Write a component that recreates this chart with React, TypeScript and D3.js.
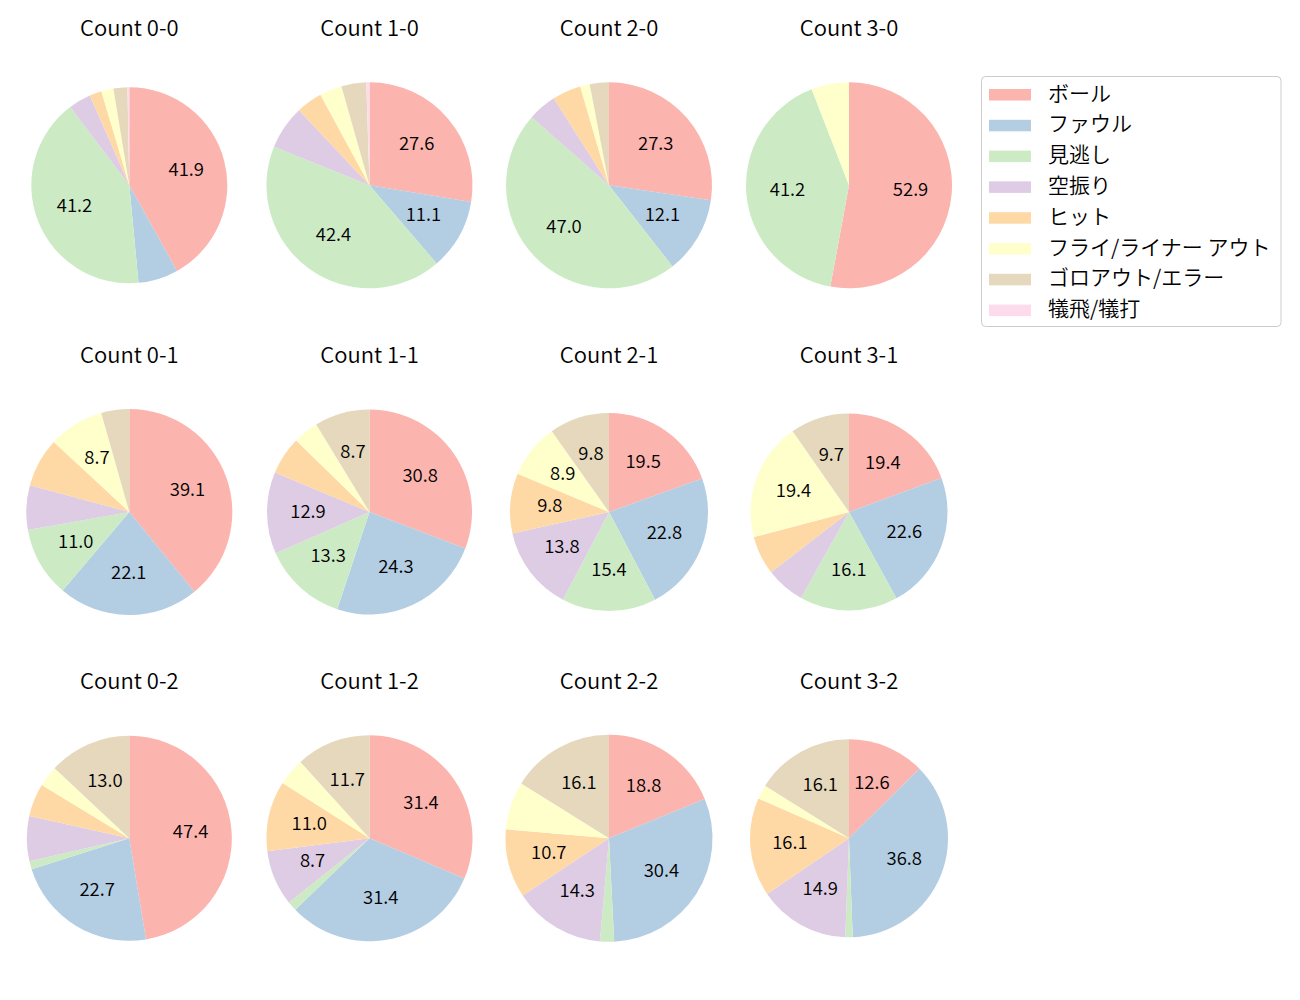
import React from "react";
import * as d3 from "d3";

const categories = ["ボール", "ファウル", "見逃し", "空振り", "ヒット", "フライ/ライナー アウト", "ゴロアウト/エラー", "犠飛/犠打"];
const colors = ["#fbb4ae", "#b3cde3", "#ccebc5", "#decbe4", "#fed9a6", "#ffffcc", "#e5d8bd", "#fddaec"];

const titles = [
  "Count 0-0", "Count 1-0", "Count 2-0", "Count 3-0",
  "Count 0-1", "Count 1-1", "Count 2-1", "Count 3-1",
  "Count 0-2", "Count 1-2", "Count 2-2", "Count 3-2",
];

const count00 = [41.9, 6.6, 41.2, 3.7, 2.0, 2.0, 2.3, 0.3];
const count10 = [27.6, 11.1, 42.4, 6.9, 4.1, 3.5, 3.9, 0.5];
const count20 = [27.3, 12.1, 47.0, 4.5, 4.5, 1.5, 3.0, 0];
const count30 = [52.9, 0, 41.2, 0, 0, 5.9, 0, 0];
const count01 = [39.1, 22.1, 11.0, 7.0, 7.7, 8.7, 4.4, 0];
const count11 = [30.8, 24.3, 13.3, 12.9, 6.0, 4.0, 8.7, 0];
const count21 = [19.5, 22.8, 15.4, 13.8, 9.8, 8.9, 9.8, 0];
const count31 = [19.4, 22.6, 16.1, 6.4, 6.4, 19.4, 9.7, 0];
const count02 = [47.4, 22.7, 1.3, 7.1, 5.2, 3.3, 13.0, 0];
const count12 = [31.4, 31.4, 1.5, 8.7, 11.0, 4.3, 11.7, 0];
const count22 = [18.8, 30.4, 2.2, 14.3, 10.7, 7.5, 16.1, 0];
const count32 = [12.6, 36.8, 1.2, 14.9, 16.1, 2.3, 16.1, 0];

const series = [count00, count10, count20, count30, count01, count11, count21, count31, count02, count12, count22, count32];

// layout
const colX = [129.3, 369.5, 609, 849];
const rowY = [185.3, 512, 838.3];
const titleBaseline = [36, 362.5, 689];
const radii = [98, 103, 103, 103, 103, 102.5, 99, 98.5, 102.5, 103, 103.5, 99];

const FONT = "'Noto Sans CJK JP', 'Noto Sans', sans-serif";
const WEIGHT = 350;
const LABEL_SIZE = 18.5;
const TITLE_SIZE = 22;
const LEGEND_SIZE = 21;

function Pie({ values, title, cx, cy, r, ty }: { values: number[]; title: string; cx: number; cy: number; r: number; ty: number }) {
  const pie = d3.pie<number>().sort(null).value((d) => d).startAngle(0).endAngle(2 * Math.PI);
  const arcs = pie(values);
  const arc = d3.arc<d3.PieArcDatum<number>>().innerRadius(0).outerRadius(r);
  const total = d3.sum(values);
  return (
    <g transform={`translate(${cx},${cy})`}>
      {arcs.map((a, i) =>
        a.value > 0 ? <path key={i} d={arc(a) || ""} fill={colors[i]} /> : null
      )}
      {arcs.map((a, i) => {
        const pct = (a.value / total) * 100;
        if (pct < 8) return null;
        const mid = (a.startAngle + a.endAngle) / 2;
        const x = Math.sin(mid) * r * 0.6;
        const y = -Math.cos(mid) * r * 0.6;
        return (
          <text key={"t" + i} x={x} y={y + LABEL_SIZE * 0.27} textAnchor="middle" fontSize={LABEL_SIZE} fontWeight={WEIGHT} fontFamily={FONT} fill="#000">
            {pct.toFixed(1)}
          </text>
        );
      })}
      <text x={0} y={ty - cy} textAnchor="middle" fontSize={TITLE_SIZE} fontWeight={WEIGHT} fontFamily={FONT} fill="#000">
        {title}
      </text>
    </g>
  );
}

function Legend() {
  const x0 = 981.5, y0 = 76.5, w = 299.5, h = 250;
  const pitch = 30.8;
  return (
    <g>
      <rect x={x0} y={y0} width={w} height={h} rx={4} ry={4} fill="#fff" fillOpacity={0.8} stroke="#cccccc" strokeWidth={1} />
      {categories.map((c, i) => (
        <g key={c}>
          <rect x={989} y={89 + pitch * i} width={42} height={11.5} fill={colors[i]} />
          <text x={1048} y={100.5 + pitch * i} fontSize={LEGEND_SIZE} fontWeight={WEIGHT} fontFamily={FONT} fill="#000">
            {c}
          </text>
        </g>
      ))}
    </g>
  );
}

export default function App() {
  return (
    <svg width={1300} height={1000} style={{ position: "absolute", left: 0, top: 0, background: "#fff" }}>
      <rect x={0} y={0} width={1300} height={1000} fill="#fff" />
      {series.map((vals, k) => (
        <Pie key={k} values={vals} title={titles[k]} cx={colX[k % 4]} cy={rowY[Math.floor(k / 4)]} r={radii[k]} ty={titleBaseline[Math.floor(k / 4)]} />
      ))}
      <Legend />
    </svg>
  );
}
